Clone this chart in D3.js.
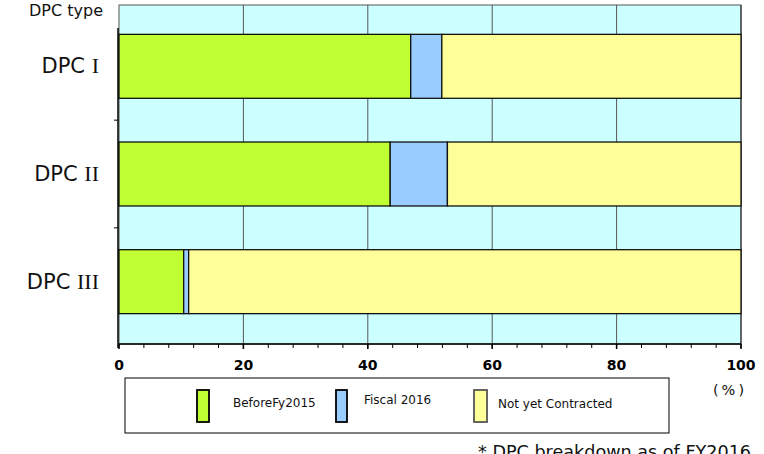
<!DOCTYPE html>
<html>
<head>
<meta charset="utf-8">
<script src="https://cdn.jsdelivr.net/npm/d3@7"></script>
<style>
  html, body { margin: 0; padding: 0; background: #fff; }
  svg { display: block; font-family: "DejaVu Sans", Verdana, sans-serif; }
</style>
</head>
<body>
<svg id="chart" width="764" height="454"></svg>
<script>
// DPC contract status, share of each type (%)
const categories = ["DPC I", "DPC II", "DPC III"];
const seriesNames = ["BeforeFy2015", "Fiscal 2016", "Not yet Contracted"];
const beforeFy2015 = [46.9, 43.6, 10.4];
const fiscal2016 = [5.0, 9.2, 0.8];
const notYetContracted = [48.1, 47.2, 88.8];
const seriesColors = ["#c0ff33", "#99ccff", "#ffff99"];
const xTicks = [0, 20, 40, 60, 80, 100];

const rows = categories.map((c, i) => ({
  cat: c,
  "BeforeFy2015": beforeFy2015[i],
  "Fiscal 2016": fiscal2016[i],
  "Not yet Contracted": notYetContracted[i]
}));
const stacked = d3.stack().keys(seriesNames)(rows);

const svg = d3.select("#chart");
const plotLeft = 119, plotRight = 741, plotTop = 5, plotBottom = 344;

const x = d3.scaleLinear().domain([0, 100]).range([plotLeft, plotRight]);
const y = d3.scaleBand().domain(categories).range([12.5, 335.5])
  .paddingInner(0.406).paddingOuter(0.203);

// plot background
svg.append("rect")
  .attr("x", plotLeft).attr("y", plotTop)
  .attr("width", plotRight - plotLeft).attr("height", plotBottom - plotTop)
  .attr("fill", "#ccffff").attr("stroke", "#555").attr("stroke-width", 1);

// vertical gridlines
svg.append("g").selectAll("line")
  .data(xTicks.filter(t => t > 0))
  .join("line")
  .attr("x1", d => x(d)).attr("x2", d => x(d))
  .attr("y1", plotTop).attr("y2", plotBottom)
  .attr("stroke", d => d === 100 ? "#222" : "#555").attr("stroke-width", 1);

// stacked bars
svg.append("g").selectAll("g")
  .data(stacked)
  .join("g")
  .attr("fill", (d, i) => seriesColors[i])
  .selectAll("rect")
  .data(d => d.map(v => ({ v, cat: v.data.cat })))
  .join("rect")
  .attr("x", d => x(d.v[0]))
  .attr("width", d => x(d.v[1]) - x(d.v[0]))
  .attr("y", d => y(d.cat))
  .attr("height", y.bandwidth())
  .attr("stroke", "#111").attr("stroke-width", 1.3);

// x axis
const xAxis = svg.append("g");
xAxis.append("line")
  .attr("x1", plotLeft).attr("x2", plotRight).attr("y1", plotBottom).attr("y2", plotBottom)
  .attr("stroke", "#000").attr("stroke-width", 1.5);
xAxis.selectAll("line.minor")
  .data(d3.range(0, 101, 4))
  .join("line").attr("class", "minor")
  .attr("x1", d => x(d)).attr("x2", d => x(d))
  .attr("y1", plotBottom).attr("y2", plotBottom + 4)
  .attr("stroke", "#000").attr("stroke-width", 1);
xAxis.selectAll("line.major")
  .data(xTicks)
  .join("line").attr("class", "major")
  .attr("x1", d => x(d)).attr("x2", d => x(d))
  .attr("y1", plotBottom).attr("y2", plotBottom + 5)
  .attr("stroke", "#000").attr("stroke-width", 1.5);
xAxis.selectAll("text")
  .data(xTicks)
  .join("text")
  .attr("x", d => x(d)).attr("y", 370)
  .attr("text-anchor", "middle")
  .attr("font-size", 14).attr("font-weight", "bold")
  .text(d => d);

// y axis
const yAxis = svg.append("g");
yAxis.append("line")
  .attr("x1", plotLeft - 1).attr("x2", plotLeft - 1).attr("y1", 28).attr("y2", plotBottom + 4)
  .attr("stroke", "#000").attr("stroke-width", 1.5);
yAxis.selectAll("line.tick")
  .data(categories.slice(1))
  .join("line").attr("class", "tick")
  .attr("x1", plotLeft - 5).attr("x2", plotLeft - 1)
  .attr("y1", d => y(d) - y.step() * y.paddingInner() / 2)
  .attr("y2", d => y(d) - y.step() * y.paddingInner() / 2)
  .attr("stroke", "#000").attr("stroke-width", 1);

const yLabels = yAxis.selectAll("text")
  .data(categories)
  .join("text")
  .attr("x", 99)
  .attr("y", d => y(d) + y.bandwidth() / 2 + 7)
  .attr("text-anchor", "end")
  .attr("font-size", 21)
  .attr("fill", "#111");
yLabels.append("tspan").text(d => d.split(" ")[0] + " ");
yLabels.append("tspan")
  .attr("font-family", "'Liberation Serif', serif")
  .attr("font-size", 22)
  .text(d => d.split(" ")[1]);

svg.append("text")
  .attr("x", 103).attr("y", 16)
  .attr("text-anchor", "end")
  .attr("font-size", 16)
  .attr("fill", "#111")
  .text("DPC type");

svg.append("text")
  .attr("x", 730).attr("y", 395)
  .attr("text-anchor", "middle")
  .attr("font-size", 14.5)
  .attr("letter-spacing", 3)
  .attr("fill", "#111")
  .text("(%)");

// legend
const legend = svg.append("g");
legend.append("rect")
  .attr("x", 125).attr("y", 378).attr("width", 544).attr("height", 55)
  .attr("fill", "#fff").attr("stroke", "#000").attr("stroke-width", 1);
const legendItems = [
  { sx: 197, sw: 12, tx: 233, ty: 407, stroke: "#000" },
  { sx: 336, sw: 11, tx: 364, ty: 404, stroke: "#000" },
  { sx: 474, sw: 13, tx: 498, ty: 408, stroke: "#555" }
];
legend.selectAll("rect.sw")
  .data(seriesNames)
  .join("rect").attr("class", "sw")
  .attr("x", (d, i) => legendItems[i].sx).attr("y", 390)
  .attr("width", (d, i) => legendItems[i].sw).attr("height", 32)
  .attr("fill", (d, i) => seriesColors[i])
  .attr("stroke", (d, i) => legendItems[i].stroke).attr("stroke-width", 1.8);
legend.selectAll("text")
  .data(seriesNames)
  .join("text")
  .attr("x", (d, i) => legendItems[i].tx).attr("y", (d, i) => legendItems[i].ty)
  .attr("font-size", 12)
  .attr("fill", "#111")
  .text(d => d);

// footnote, partly below the lower edge as in the printed page
svg.append("text")
  .attr("x", 478).attr("y", 458)
  .attr("font-size", 17.6)
  .attr("fill", "#111")
  .text("* DPC breakdown as of FY2016");
</script>
</body>
</html>
